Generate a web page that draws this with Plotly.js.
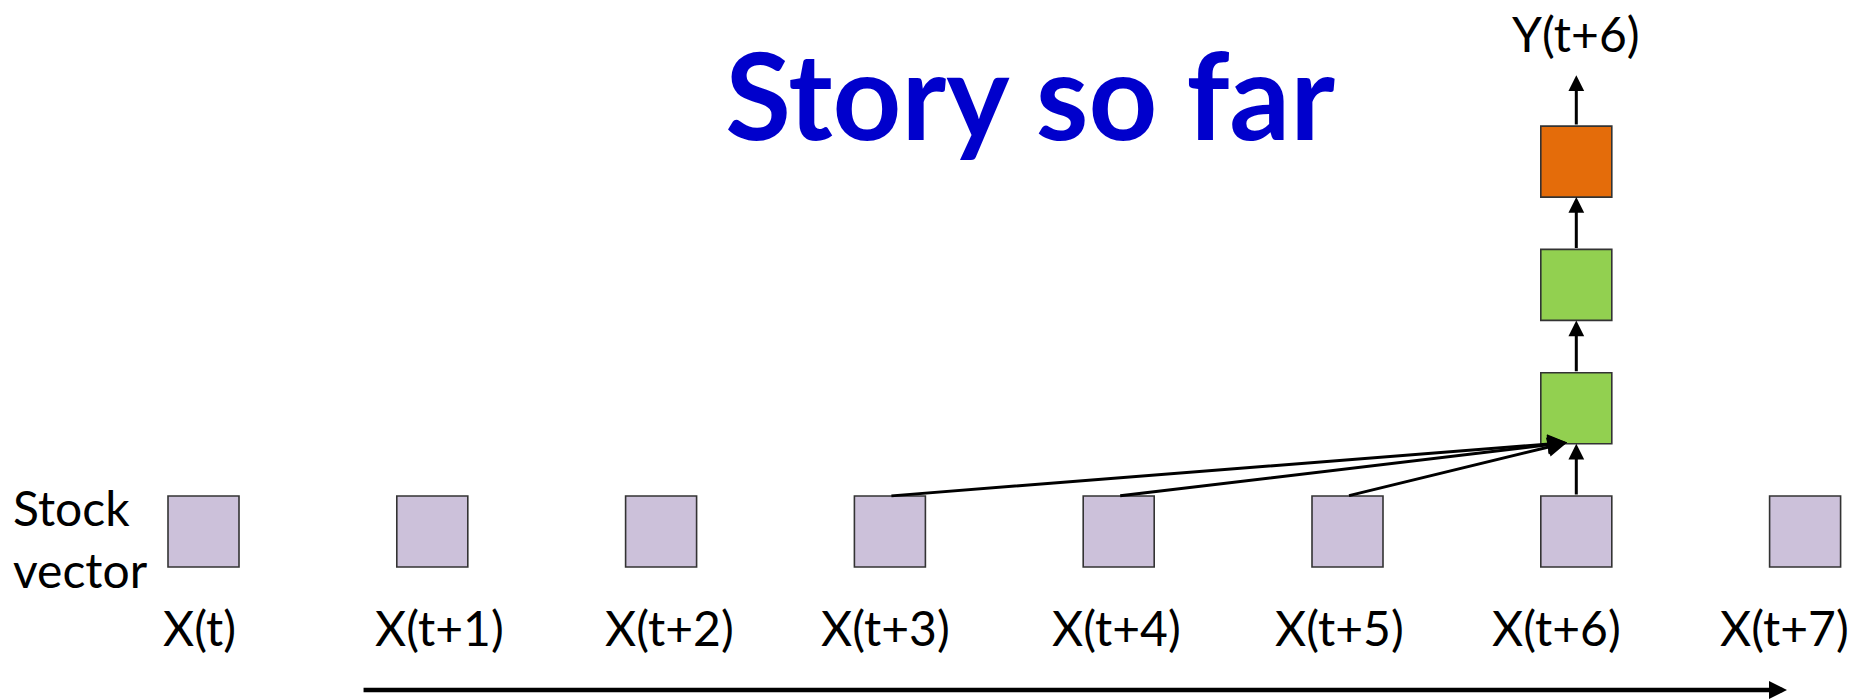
<!DOCTYPE html>
<html>
<head>
<meta charset="utf-8">
<script src="https://cdn.plot.ly/plotly-3.0.1.min.js"></script>
<style>html,body{margin:0;padding:0;background:#fff;}#chart{width:1861px;height:700px;}</style>
</head>
<body>
<div id="chart"></div>
<script>
// ---- data ----
const titleText = 'Story so far';
const categories = ['X(t)', 'X(t+1)', 'X(t+2)', 'X(t+3)', 'X(t+4)', 'X(t+5)', 'X(t+6)', 'X(t+7)'];
const inputSteps = [0, 1, 2, 3, 4, 5, 6, 7];
const inputLevel = [0, 0, 0, 0, 0, 0, 0, 0];
const rowLabel = 'Stock<br>vector';
const stackStep = 6;                 // column of the network stack
const stackLevels = [1, 2, 3];       // hidden, hidden, output
const stackKinds = ['hidden', 'hidden', 'output'];
const attendSteps = [3, 4, 5];       // inputs feeding first hidden layer
const outputLabel = 'Y(t+6)';
const timeAxis = [0.693, 6.921];     // start / end of time arrow (in steps)

// ---- style ----
const labelShift = [-4, 7, 8, -4, -2, -8, -20, -21];   // px nudges of the labels
const colInput = '#CCC1DA', colHidden = '#92D050', colOutput = '#E46C0A';
const edge = '#333333';
const FONT = 'Lato, "Open Sans", sans-serif';
const BOX = 71;                      // square size in px
const hx = 0.1552, hy = 0.288;       // half box in data units

const traces = [];
traces.push({
  x: inputSteps, y: inputLevel, type: 'scatter', mode: 'markers', hoverinfo: 'skip',
  marker: {symbol: 'square', size: BOX, color: colInput, line: {color: edge, width: 1.6}}
});
traces.push({
  x: stackLevels.map(() => stackStep), y: stackLevels, type: 'scatter', mode: 'markers', hoverinfo: 'skip',
  marker: {symbol: 'square', size: BOX,
    color: stackKinds.map(k => k === 'output' ? colOutput : colHidden),
    line: {color: edge, width: 1.6}}
});

const ann = [];
// category labels
categories.forEach((c, i) => ann.push({
  x: inputSteps[i], y: -0.78, xref: 'x', yref: 'y', text: c, showarrow: false, xshift: labelShift[i],
  xanchor: 'center', yanchor: 'middle', font: {family: FONT, size: 48, color: '#000'}
}));
// row label
ann.push({x: -0.842, y: -0.06, xref: 'x', yref: 'y', text: rowLabel, showarrow: false,
  xanchor: 'left', yanchor: 'middle', align: 'left', font: {family: FONT, size: 48, color: '#000'}});
// output label
ann.push({x: stackStep, y: 4.04, xref: 'x', yref: 'y', text: outputLabel, showarrow: false,
  xanchor: 'center', yanchor: 'middle', font: {family: FONT, size: 48, color: '#000'}});

function arrow(x0, y0, x1, y1, w, s) {
  ann.push({x: x1, y: y1, ax: x0, ay: y0, xref: 'x', yref: 'y', axref: 'x', ayref: 'y',
    text: '', showarrow: true, arrowhead: 2, arrowsize: s, arrowwidth: w, arrowcolor: '#000',
    standoff: 0, startstandoff: 0});
}
// vertical stack arrows
arrow(stackStep, 0 + hy, stackStep, stackLevels[0] - hy, 3, 1.05);
for (let k = 0; k < stackLevels.length - 1; k++) {
  arrow(stackStep, stackLevels[k] + hy, stackStep, stackLevels[k + 1] - hy, 3, 1.05);
}
arrow(stackStep, stackLevels[2] + hy, stackStep, 3.70, 3, 1.05);
// converging arrows
attendSteps.forEach(s => arrow(s, 0 + hy, stackStep - 0.04, stackLevels[0] - hy + 0.01, 3, 1.3));
// time arrow
arrow(timeAxis[0], -1.2855, timeAxis[1], -1.2855, 4.5, 0.8);

const layout = {
  width: 1861, height: 700,
  margin: {l: 0, r: 0, t: 0, b: 0, pad: 0},
  paper_bgcolor: '#fff', plot_bgcolor: '#fff',
  showlegend: false,
  title: {text: '<b>' + titleText + '</b>', font: {family: FONT, size: 120, color: '#0000CC'},
    x: 0.5535, xanchor: 'center', xref: 'paper', y: 0.86, yref: 'container', yanchor: 'middle'},
  xaxis: {range: [-0.8894, 7.2443], visible: false, fixedrange: true},
  yaxis: {range: [-1.3666, 4.3107], visible: false, fixedrange: true},
  annotations: ann
};
Plotly.newPlot('chart', traces, layout, {staticPlot: true, displayModeBar: false});
</script>
</body>
</html>
